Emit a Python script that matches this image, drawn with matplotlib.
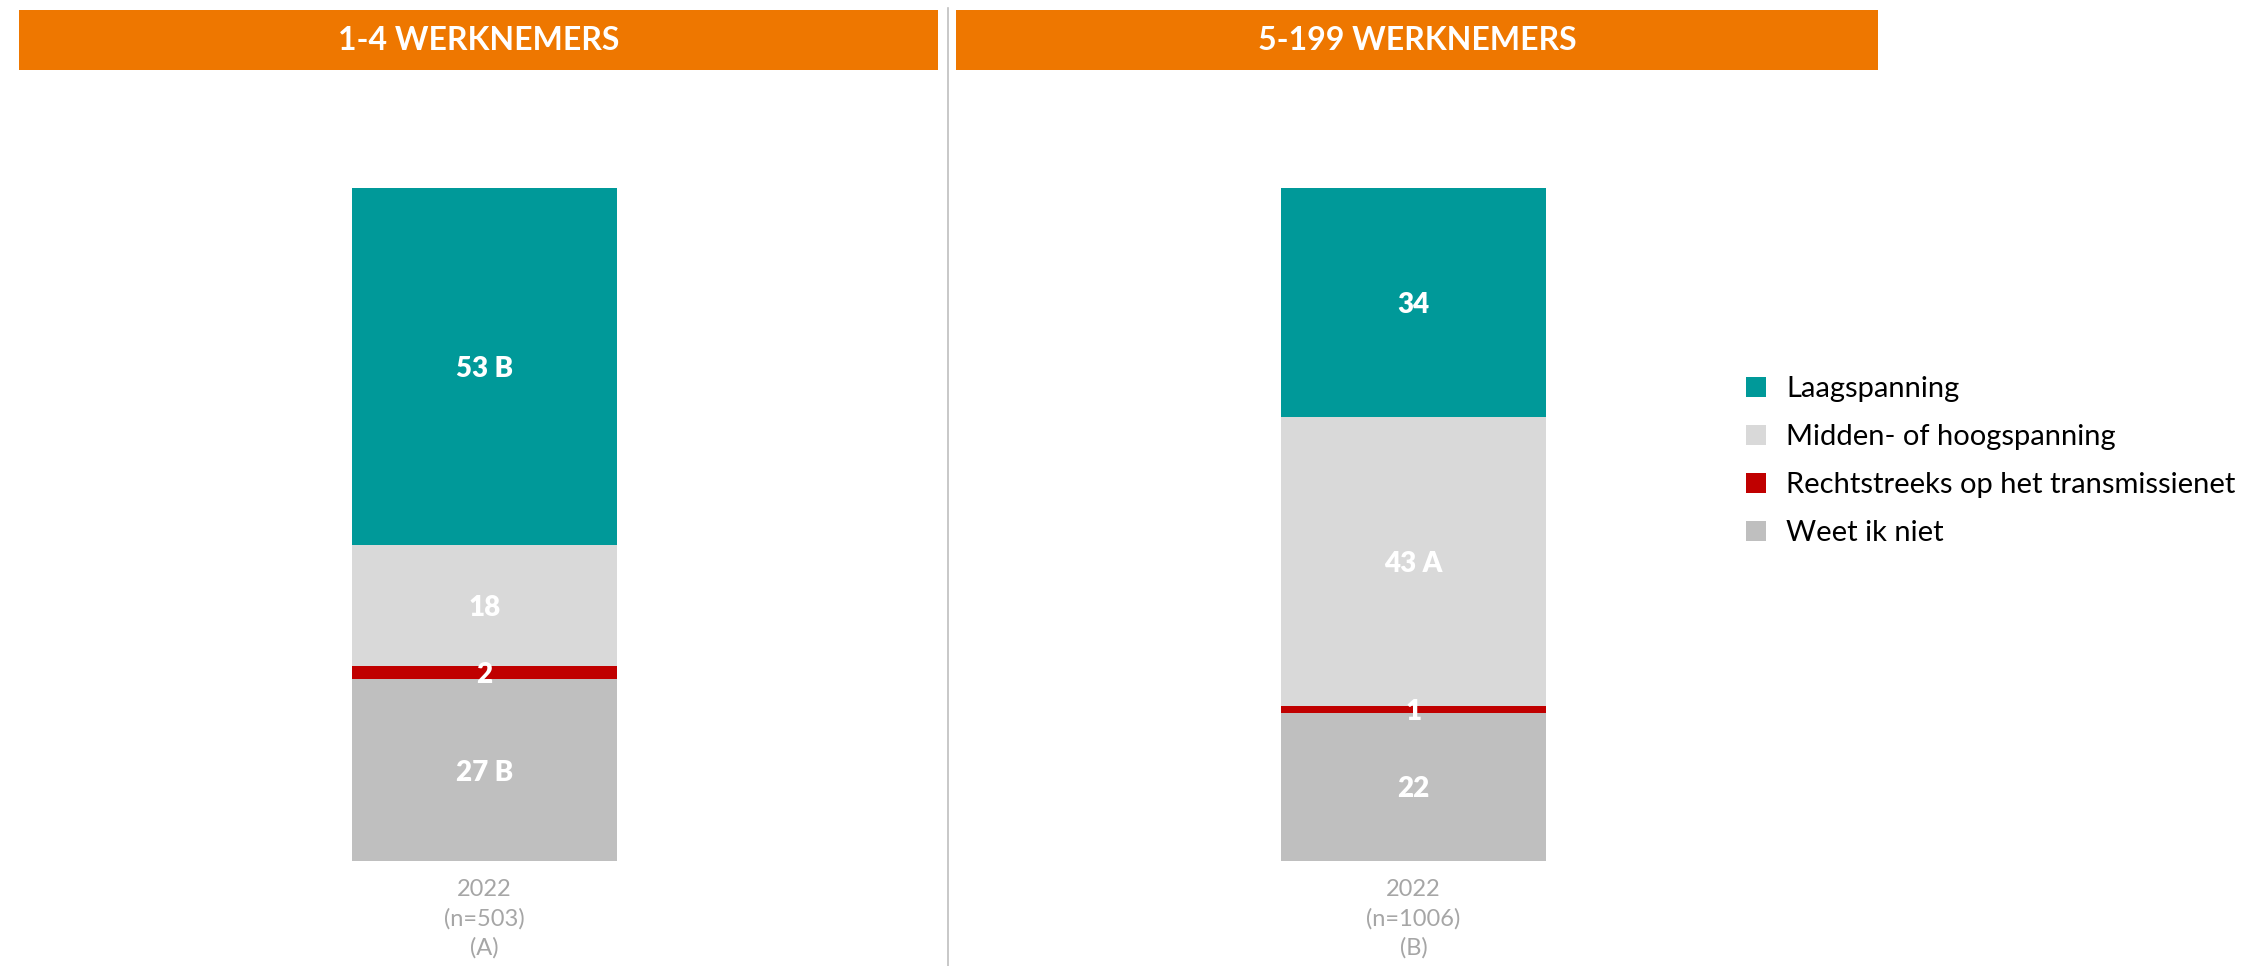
import matplotlib
matplotlib.use("Agg")
import matplotlib.pyplot as plt
from matplotlib.patches import Rectangle
from matplotlib.lines import Line2D

plt.rcParams['font.family'] = ['Lato', 'DejaVu Sans']

panels = ["1-4 WERKNEMERS", "5-199 WERKNEMERS"]
tick_labels = ["2022\n(n=503)\n(A)", "2022\n(n=1006)\n(B)"]
series = ["Laagspanning", "Midden- of hoogspanning", "Rechtstreeks op het transmissienet", "Weet ik niet"]
laag = [53, 34]
midden = [18, 43]
recht = [2, 1]
weet = [27, 22]
laag_lbl = ["53 B", "34"]
midden_lbl = ["18", "43 A"]
recht_lbl = ["2", "1"]
weet_lbl = ["27 B", "22"]

colors = ["#009999", "#D9D9D9", "#C00000", "#BFBFBF"]
W, H = 2245, 966
fig = plt.figure(figsize=(W / 100, H / 100), dpi=100)

def fx(px):
    return px / W

def fy(py):
    return 1 - py / H

bar_left = [352, 1281]
bar_right = [617, 1546]
hdr_left = [19, 956]
hdr_right = [938, 1878]
bar_top, bar_bot = 188, 861

# divider
fig.add_artist(Line2D([fx(948), fx(948)], [fy(8), fy(966)], color="#BFBFBF", lw=1.2))

handles = None
for i in range(2):
    # header
    fig.add_artist(Rectangle((fx(hdr_left[i]), fy(70)), fx(hdr_right[i] - hdr_left[i]), 60 / H,
                             facecolor="#EE7700", edgecolor="none", transform=fig.transFigure))
    fig.text(fx((hdr_left[i] + hdr_right[i]) / 2), fy(41), panels[i], color="white",
             fontsize=23, fontweight="bold", ha="center", va="center")

    ax = fig.add_axes([fx(bar_left[i]), fy(bar_bot), fx(bar_right[i] - bar_left[i]),
                       (bar_bot - bar_top) / H])
    segs = [(weet[i], weet_lbl[i], colors[3], series[3]),
            (recht[i], recht_lbl[i], colors[2], series[2]),
            (midden[i], midden_lbl[i], colors[1], series[1]),
            (laag[i], laag_lbl[i], colors[0], series[0])]
    bottom = 0
    hs = {}
    for val, lbl, c, name in segs:
        b = ax.bar([0], [val], bottom=bottom, width=1.0, color=c, label=name)
        hs[name] = b
        ax.text(0, bottom + val / 2, lbl, ha="center", va="center_baseline", color="white",
                fontsize=20, fontweight="heavy")
        bottom += val
    handles = [hs[n] for n in series]
    ax.set_xlim(-0.5, 0.5)
    ax.set_ylim(0, sum(s[0] for s in segs))
    ax.set_xticks([0])
    ax.set_xticklabels([tick_labels[i]], color="#A6A6A6", fontsize=17, linespacing=1.45)
    ax.tick_params(axis="x", length=0, pad=13)
    ax.set_yticks([])
    for sp in ax.spines.values():
        sp.set_visible(False)

fig.legend(handles, series, loc="upper left", bbox_to_anchor=(fx(1720), fy(350)),
           frameon=False, fontsize=21, handlelength=0.68, handleheight=0.68,
           handletextpad=0.68, labelspacing=0.75)

fig.savefig("out.png", dpi=100, facecolor="white")
